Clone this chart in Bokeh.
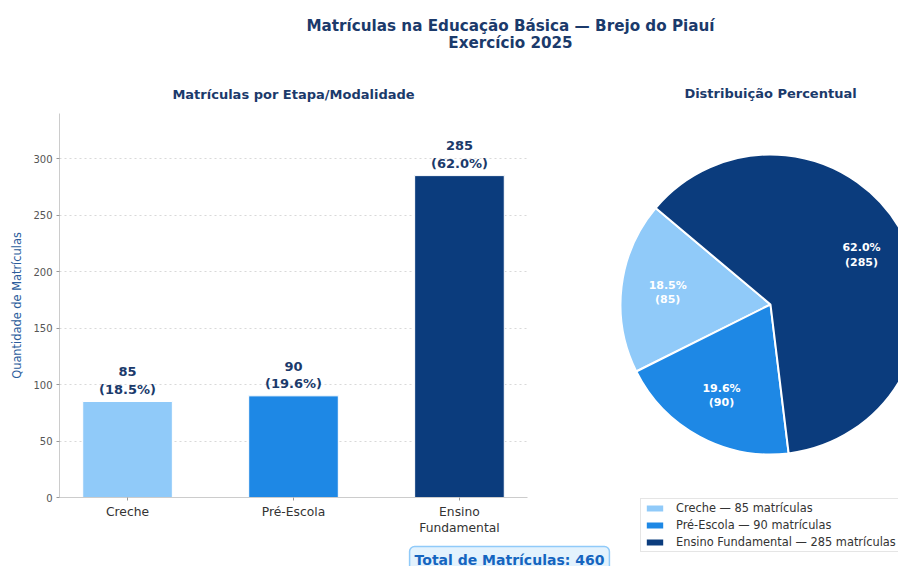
import math
from bokeh.plotting import figure
from bokeh.models import Range1d, FixedTicker, Label, Legend, LegendItem
from bokeh.layouts import column, row
from bokeh.embed import file_html
from bokeh.resources import INLINE
from bokeh.core.properties import value

# ---------------- data ----------------
categories = ["Creche", "Pré-Escola", "Ensino Fundamental"]
tick_labels = ["Creche", "Pré-Escola", "Ensino\nFundamental"]
matriculas = [85, 90, 285]
colors = ["#90CAF9", "#1E88E5", "#0B3C7D"]
title_lines = ["Matrículas na Educação Básica — Brejo do Piauí", "Exercício 2025"]
bar_title = "Matrículas por Etapa/Modalidade"
pie_title = "Distribuição Percentual"
y_label = "Quantidade de Matrículas"
y_ticks = [0, 50, 100, 150, 200, 250, 300]

total = sum(matriculas)
pcts = [v / total * 100 for v in matriculas]

FONT = "DejaVu Sans"
NAVY = "#1B3A6B"


def blank(fig):
    fig.axis.visible = False
    fig.grid.visible = False
    fig.outline_line_color = None


# ---------------- header ----------------
hdr = figure(width=898, height=68, x_range=Range1d(0, 898), y_range=Range1d(0, 68),
             toolbar_location=None, output_backend="svg", min_border=0)
blank(hdr)
hdr.text(x=[510, 510], y=[43, 26], text=title_lines, text_font=value(FONT),
         text_font_size="15.2px", text_font_style="bold", text_color=NAVY,
         text_align="center", text_baseline="middle")

# ---------------- bar chart ----------------
xs = list(range(len(categories)))
bar = figure(width=618, height=476, x_range=Range1d(-0.41, 2.41), y_range=Range1d(0, 340),
             toolbar_location=None, output_backend="svg",
             min_border_left=59, min_border_right=91, min_border_top=45, min_border_bottom=47)
bar.outline_line_color = None
bar.title.text = bar_title
bar.title.align = "center"
bar.title.text_font = FONT
bar.title.text_font_size = "13px"
bar.title.text_font_style = "bold"
bar.title.text_color = NAVY
bar.title.standoff = 23

bar.xgrid.visible = False
bar.ygrid.grid_line_color = "#d9d9d9"
bar.ygrid.grid_line_dash = "2 3"
bar.ygrid.ticker = FixedTicker(ticks=y_ticks)

bar.yaxis.ticker = FixedTicker(ticks=y_ticks)
bar.xaxis.ticker = FixedTicker(ticks=xs)
bar.xaxis.major_label_overrides = {i: t for i, t in enumerate(tick_labels)}
for ax in (bar.xaxis, bar.yaxis):
    ax.axis_line_color = "#cccccc"
    ax.major_tick_line_color = "#999999"
    ax.minor_tick_line_color = None
    ax.major_tick_in = 0
    ax.major_tick_out = 3
    ax.major_label_text_font = FONT
bar.yaxis.major_label_text_font_size = "10px"
bar.yaxis.major_label_text_color = "#555555"
bar.yaxis.major_label_standoff = 4
bar.xaxis.major_label_text_font_size = "12.3px"
bar.xaxis.major_label_text_color = "#333333"
bar.xaxis.major_label_standoff = 4
bar.yaxis.axis_label = y_label
bar.yaxis.axis_label_text_font = FONT
bar.yaxis.axis_label_text_font_size = "11.4px"
bar.yaxis.axis_label_text_font_style = "normal"
bar.yaxis.axis_label_text_color = "#2B5C9B"
bar.yaxis.axis_label_standoff = 6

bar.vbar(x=xs, top=matriculas, width=0.54, fill_color=colors, line_color="white", line_width=1)
bar_labels = [f"{v}\n({p:.1f}%)" for v, p in zip(matriculas, pcts)]
bar.text(x=xs, y=matriculas, text=bar_labels, y_offset=-5, text_font=value(FONT),
         text_font_size="13px", text_font_style="bold", text_color=NAVY,
         text_align="center", text_baseline="bottom", text_line_height=1.15)

# ---------------- footer (total box) ----------------
foot = figure(width=618, height=22, x_range=Range1d(0, 618), y_range=Range1d(0, 22),
              toolbar_location=None, output_backend="svg", min_border=0)
blank(foot)
foot.add_layout(Label(x=509, y=7, text=f"Total de Matrículas: {total}", text_font=FONT,
                      text_font_size="14px", text_font_style="bold", text_color="#1565C0",
                      text_align="center", text_baseline="middle",
                      background_fill_color="#E3F2FD", border_line_color="#90CAF9",
                      border_line_width=1.5, border_radius=5, padding=5))

# ---------------- pie chart ----------------
pie = figure(width=280, height=498, x_range=Range1d(0, 280), y_range=Range1d(0, 498),
             toolbar_location=None, output_backend="svg", min_border=0)
blank(pie)

cx, cy, R = 152, 262, 150
start_deg = 140.0
starts, ends = [], []
acc = start_deg
for v in matriculas:
    a = v / total * 360.0
    starts.append(math.radians(acc))
    ends.append(math.radians(acc + a))
    acc += a

renderers = []
for i in range(len(matriculas)):
    r = pie.wedge(x=cx, y=cy, radius=R, start_angle=starts[i], end_angle=ends[i],
                  direction="anticlock", fill_color=colors[i], line_color="white", line_width=2)
    renderers.append(r)

mids = [(s + e) / 2 for s, e in zip(starts, ends)]
lx = [cx + 0.69 * R * math.cos(m) for m in mids]
ly = [cy + 0.69 * R * math.sin(m) for m in mids]
pie_labels = [f"{p:.1f}%\n({v})" for v, p in zip(matriculas, pcts)]
pie.text(x=lx, y=ly, text=pie_labels, text_font=value(FONT), text_font_size="11px",
         text_font_style="bold", text_color="white", text_align="center",
         text_baseline="middle", text_line_height=1.1)

pie.text(x=[152], y=[473], text=[pie_title], text_font=value(FONT), text_font_size="13px",
         text_font_style="bold", text_color=NAVY, text_align="center", text_baseline="middle")

legend = Legend(items=[LegendItem(label=f"{c} — {v} matrículas", renderers=[r])
                       for c, v, r in zip(categories, matriculas, renderers)],
                location=(22, 14))
legend.label_text_font = FONT
legend.label_text_font_size = "11.4px"
legend.label_text_color = "#333333"
legend.glyph_width = 23
legend.glyph_height = 10
legend.label_height = 12
legend.label_standoff = 10
legend.spacing = 3
legend.padding = 2
legend.margin = 0
legend.border_line_color = "#cccccc"
legend.background_fill_alpha = 1
pie.add_layout(legend)

layout = column(hdr, row(column(bar, column(foot)), column(pie)))
open("out.html", "w").write(file_html(layout, INLINE))
